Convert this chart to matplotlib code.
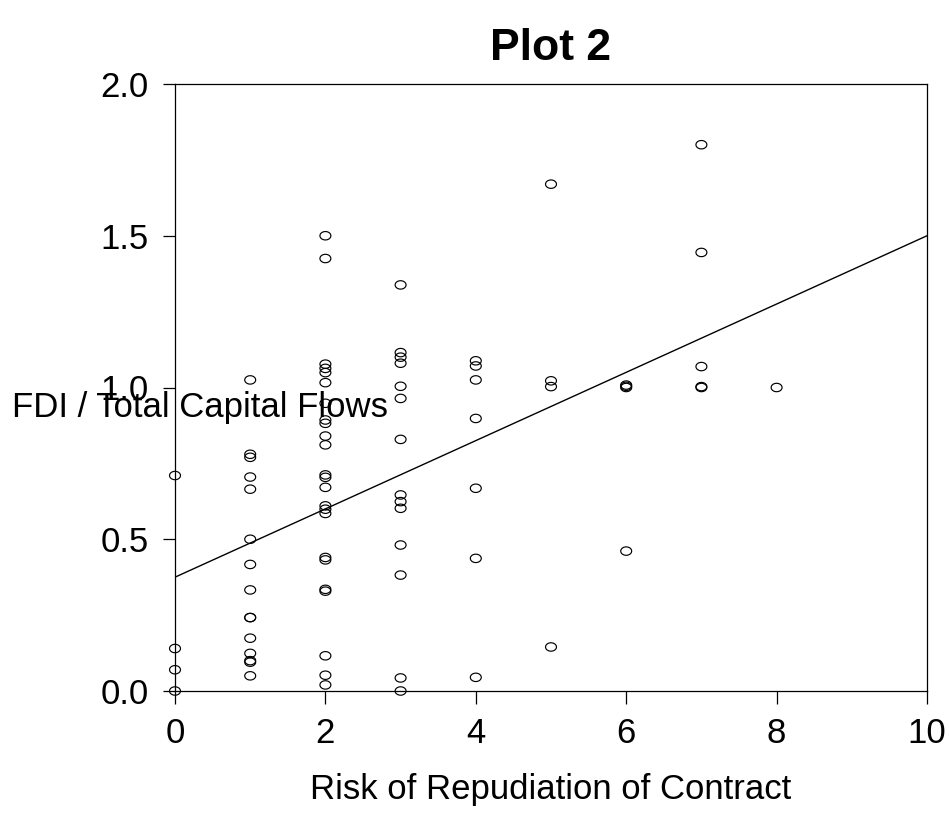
import numpy as np
import matplotlib
matplotlib.use("Agg")
import matplotlib.pyplot as plt
from matplotlib.path import Path

plt.rcParams['font.family'] = ['Liberation Sans', 'DejaVu Sans']

# Risk of repudiation (x) and FDI share (y)
risk_0 = [0.71, 0.14, 0.07, 0.0]
risk_1 = [1.025, 0.78, 0.77, 0.705, 0.665, 0.50, 0.417, 0.333, 0.242, 0.242,
          0.174, 0.124, 0.10, 0.095, 0.05]
risk_2 = [1.50, 1.425, 1.077, 1.063, 1.049, 1.016, 0.948, 0.893, 0.882, 0.84,
          0.811, 0.712, 0.704, 0.671, 0.61, 0.599, 0.585, 0.44, 0.432, 0.335,
          0.329, 0.116, 0.052, 0.02]
risk_3 = [1.338, 1.115, 1.10, 1.08, 1.004, 0.964, 0.829, 0.646, 0.624, 0.602,
          0.481, 0.382, 0.043, 0.0]
risk_4 = [1.088, 1.071, 1.025, 0.898, 0.668, 0.437, 0.045]
risk_5 = [1.67, 1.022, 1.003, 0.145]
risk_6 = [1.008, 1.004, 1.0, 0.461]
risk_7 = [1.80, 1.445, 1.069, 1.003, 1.0]
risk_8 = [1.0]

columns = [risk_0, risk_1, risk_2, risk_3, risk_4, risk_5, risk_6, risk_7, risk_8]

# fitted line as drawn in the chart
fit_intercept = 0.375
fit_slope = 0.1125

x = np.concatenate([[i] * len(c) for i, c in enumerate(columns)])
y = np.concatenate(columns)

# slightly flattened open circle, like the original device output
t = np.linspace(0, 2 * np.pi, 40)
ellipse = Path(np.column_stack([1.3 * np.cos(t), np.sin(t)]), closed=True)

fig = plt.figure(figsize=(9.49, 8.36), dpi=100)
ax = fig.add_axes([175 / 949, 1 - 691 / 836, (927 - 175) / 949, (691 - 84) / 836])

ax.scatter(x, y, marker=ellipse, s=62, facecolors='none', edgecolors='black', linewidths=0.85,
           clip_on=False, zorder=3)

xl = np.array([0, 10])
ax.plot(xl, fit_intercept + fit_slope * xl, color='black', linewidth=1.0)

ax.set_xlim(0, 10)
ax.set_ylim(0, 2)
ax.set_xticks(np.arange(0, 11, 2))
ax.set_yticks([0, 0.5, 1.0, 1.5, 2.0])
ax.set_yticklabels(['0.0', '0.5', '1.0', '1.5', '2.0'])
ax.tick_params(direction='out', length=9, width=0.9, labelsize=25, pad=10)
for sp in ax.spines.values():
    sp.set_linewidth(0.9)

fig.text(551 / 949, 1 - 48 / 836, 'Plot 2', ha='center', va='center', fontsize=32, fontweight='bold')
fig.text(551 / 949, 1 - 790 / 836, 'Risk of Repudiation of Contract', ha='center', va='center', fontsize=25)
fig.text(12 / 949, 1 - 408 / 836, 'FDI / Total Capital Flows', ha='left', va='center', fontsize=25)

fig.savefig('out.png', dpi=100)
